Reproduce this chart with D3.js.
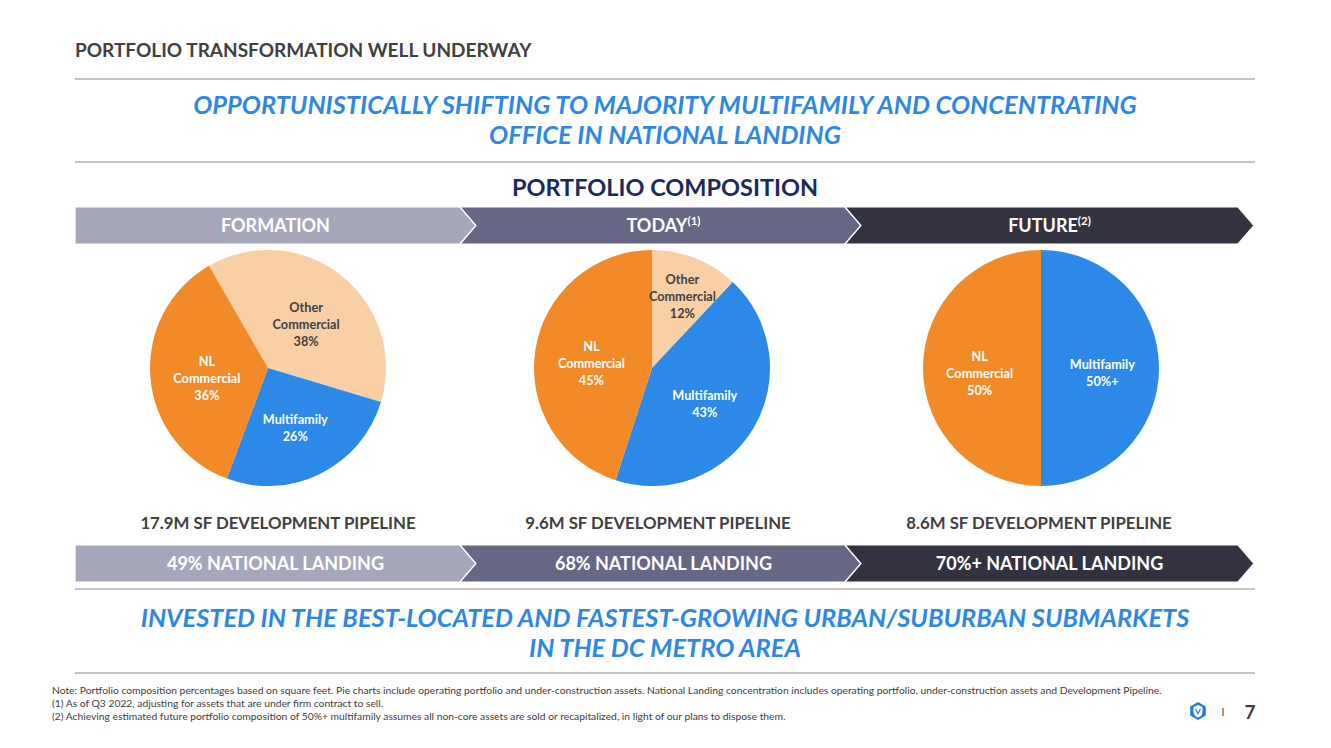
<!DOCTYPE html>
<html lang="en">
<head>
<meta charset="UTF-8">
<title>Portfolio Transformation Well Underway</title>
<script src="https://cdnjs.cloudflare.com/ajax/libs/d3/7.8.5/d3.min.js"></script>
<style>
  body { margin: 0; padding: 0; background: #fff; }
  svg { display: block; font-family: Lato, "Open Sans", sans-serif; }
</style>
</head>
<body>
<div id="chart"></div>
<script>
// ---- data ----
const phases = ["FORMATION", "TODAY", "FUTURE"];
const phaseNotes = ["", "(1)", "(2)"];
const segments = ["Other Commercial", "Multifamily", "NL Commercial"];
const formationShares = [38, 26, 36];
const todayShares = [12, 43, 45];
const futureShares = [0, 50, 50];
const futureLabels = ["", "50%+", "50%"];
const startAngles = [-30, 0, 0];
const pipelineSF = ["17.9M", "9.6M", "8.6M"];
const nlConcentration = ["49%", "68%", "70%+"];
const footnotes = [
  "Note: Portfolio composition percentages based on square feet. Pie charts include operating portfolio and under-construction assets. National Landing concentration includes operating portfolio, under-construction assets and Development Pipeline.",
  "(1) As of Q3 2022, adjusting for assets that are under firm contract to sell.",
  "(2) Achieving estimated future portfolio composition of 50%+ multifamily assumes all non-core assets are sold or recapitalized, in light of our plans to dispose them."
];

// ---- layout ----
const width = 1331, height = 748;
const left = 75, right = 1255;
const bandColors = ["#a7a7bb", "#666784", "#333241"];
const segColors = d3.scaleOrdinal().domain(segments).range(["#f9cfa6", "#2d89e7", "#f18a27"]);
const labelColors = d3.scaleOrdinal().domain(segments).range(["#404040", "#fff", "#fff"]);

const svg = d3.select("#chart").append("svg")
  .attr("width", width).attr("height", height);

svg.append("rect").attr("width", width).attr("height", height).attr("fill", "#fff");

// title
svg.append("text").attr("x", left).attr("y", 57)
  .attr("font-size", 19).attr("font-weight", 700).attr("fill", "#404040")
  .text("PORTFOLIO TRANSFORMATION WELL UNDERWAY");

// rules
[79, 162, 589, 673].forEach(y => {
  svg.append("line").attr("x1", left).attr("x2", right).attr("y1", y).attr("y2", y)
    .attr("stroke", "#8a8a8a").attr("stroke-width", 1.2);
});

// blue headings
function blueHeading(lines, y0) {
  lines.forEach((t, i) => {
    svg.append("text").attr("x", 665).attr("y", y0 + i * 30)
      .attr("text-anchor", "middle").attr("font-size", 25.4)
      .attr("font-weight", 700).attr("font-style", "italic")
      .attr("fill", "#2e88e2").text(t);
  });
}
blueHeading(["OPPORTUNISTICALLY SHIFTING TO MAJORITY MULTIFAMILY AND CONCENTRATING",
  "OFFICE IN NATIONAL LANDING"], 114);
blueHeading(["INVESTED IN THE BEST-LOCATED AND FASTEST-GROWING URBAN/SUBURBAN SUBMARKETS",
  "IN THE DC METRO AREA"], 627);

svg.append("text").attr("x", 665).attr("y", 196)
  .attr("text-anchor", "middle").attr("font-size", 23.5).attr("font-weight", 700)
  .attr("fill", "#1b2a5c").text("PORTFOLIO COMPOSITION");

// chevron bands
const edges = [75, 460, 845, 1238];
const tip = 16;

function band(y0, y1, labels, notes) {
  const ym = (y0 + y1) / 2;
  const g = svg.append("g");
  labels.forEach((lab, i) => {
    const a = edges[i], b = edges[i + 1];
    const pts = [[a, y0], [b, y0], [b + tip, ym], [b, y1], [a, y1]];
    if (i > 0) pts.push([a + tip, ym]);
    g.append("path").attr("d", d3.line()(pts) + "Z")
      .attr("fill", bandColors[i]).attr("stroke", "#fff").attr("stroke-width", 1.2);
    const t = g.append("text").attr("x", (a + b) / 2 + 8 + (i === 1 ? 3 : 0))
      .attr("y", ym + 6.5).attr("text-anchor", "middle")
      .attr("font-size", 18).attr("font-weight", 700).attr("fill", "#fff");
    t.append("tspan").text(lab);
    if (notes && notes[i]) {
      t.append("tspan").attr("font-size", 11.5).attr("dy", -7).text(notes[i]);
    }
  });
}
band(207, 244, phases, phaseNotes);
band(545, 582, nlConcentration.map(d => d + " NATIONAL LANDING"));

// pies
const pieCenters = [268, 652, 1041];
const pipelineX = [278, 658, 1039];
const pieY = 368, r = 118;
const shareSets = [formationShares, todayShares, futureShares];
const arc = d3.arc().innerRadius(0).outerRadius(r);

shareSets.forEach((shares, p) => {
  const pie = d3.pie().sort(null).value(d => d)
    .startAngle(startAngles[p] * Math.PI / 180)
    .endAngle(startAngles[p] * Math.PI / 180 + 2 * Math.PI);
  const arcs = pie(shares);
  const g = svg.append("g").attr("transform", `translate(${pieCenters[p]},${pieY})`);
  g.selectAll("path").data(arcs.filter(d => d.value > 0)).join("path")
    .attr("d", arc).attr("fill", d => segColors(segments[d.index]));

  arcs.filter(d => d.value > 0).forEach(d => {
    const name = segments[d.index];
    const lr = d.value < 20 ? r * 0.7 : r * 0.52;
    const mid = (d.startAngle + d.endAngle) / 2;
    const cx = Math.sin(mid) * lr, cy = -Math.cos(mid) * lr + 5;
    const pct = p === 2 ? futureLabels[d.index] : d.value + "%";
    const words = name === "Multifamily" ? ["Multifamily", pct]
      : name === "NL Commercial" ? ["NL", "Commercial", pct] : ["Other", "Commercial", pct];
    const lh = 17;
    const t = g.append("text").attr("text-anchor", "middle")
      .attr("font-size", 12.7).attr("font-weight", 700).attr("fill", labelColors(name));
    words.forEach((w, k) => {
      t.append("tspan").attr("x", cx)
        .attr("y", cy + 4.5 + (k - (words.length - 1) / 2) * lh).text(w);
    });
  });

  svg.append("text").attr("x", pipelineX[p]).attr("y", 529)
    .attr("text-anchor", "middle").attr("font-size", 16.8).attr("font-weight", 700)
    .attr("fill", "#404040").text(pipelineSF[p] + " SF DEVELOPMENT PIPELINE");
});

// footnotes
footnotes.forEach((t, i) => {
  svg.append("text").attr("x", 52).attr("y", 694 + i * 13)
    .attr("font-size", 10.3).attr("fill", "#404040").text(t);
});

// logo + page number
const hex = d3.range(6).map(k => {
  const a = Math.PI / 3 * k - Math.PI / 2;
  return [1198 + 9 * Math.cos(a), 711 + 9 * Math.sin(a)];
});
svg.append("path").attr("d", d3.line()(hex) + "Z").attr("fill", "#1f7fd6");
svg.append("path")
  .attr("d", "M1193.5,707 L1198,705 L1202.5,707 L1202.5,712 Q1202.5,716 1198,717.5 Q1193.5,716 1193.5,712 Z")
  .attr("fill", "#fff");
svg.append("path")
  .attr("d", "M1195.5,709 L1198,713.5 L1200.5,709")
  .attr("fill", "none").attr("stroke", "#1f7fd6").attr("stroke-width", 1.2);
svg.append("text").attr("x", 1223).attr("y", 716).attr("text-anchor", "middle")
  .attr("font-size", 12).attr("fill", "#555").text("I");
svg.append("text").attr("x", 1250).attr("y", 719).attr("text-anchor", "middle")
  .attr("font-size", 19).attr("font-weight", 700).attr("fill", "#404040").text("7");
</script>
</body>
</html>
